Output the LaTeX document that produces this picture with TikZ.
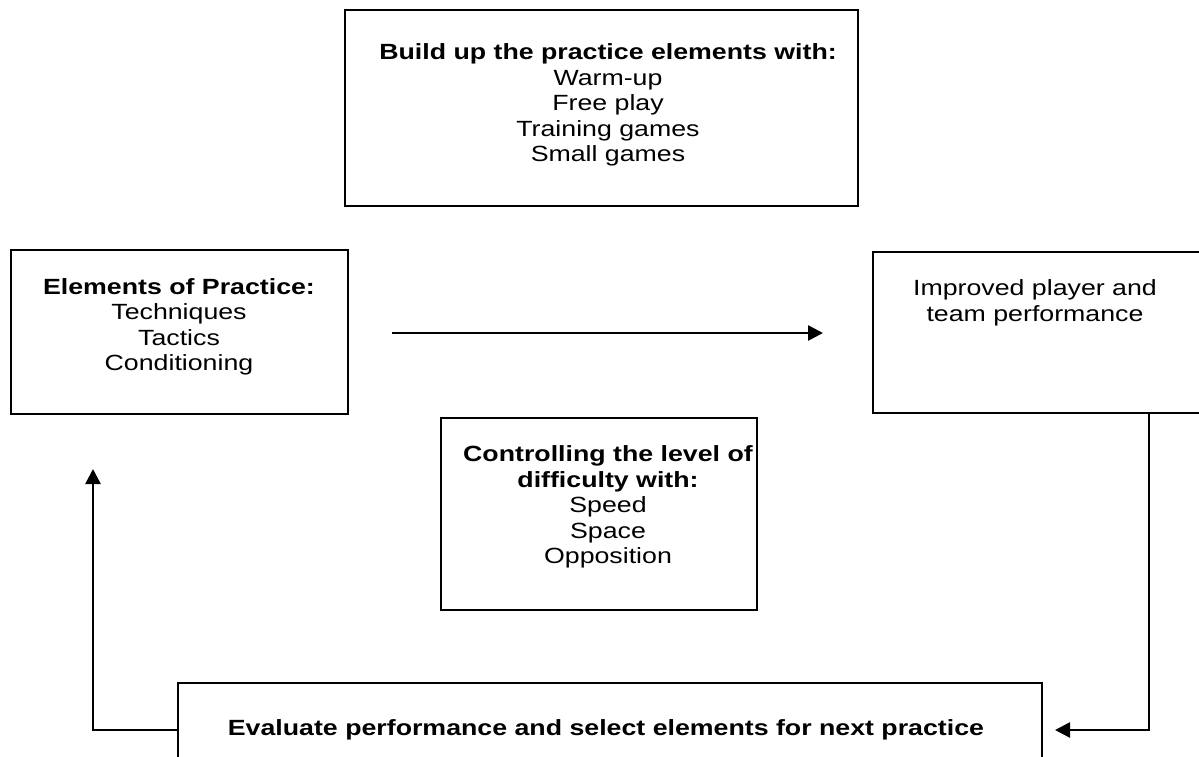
\documentclass[tikz,border=0pt]{standalone}
\usepackage{fontspec}
\setmainfont[FakeStretch=1.215]{Liberation Sans}
\usetikzlibrary{arrows.meta}
\begin{document}
\begin{tikzpicture}[x=1pt,y=-1pt,
  box/.style={draw=black,line width=1.6pt,rectangle,inner sep=0pt},
  txt/.style={align=center,inner sep=0pt,font=\fontsize{22}{25.5}\selectfont},
  conn/.style={line width=2.6pt,-{Triangle[length=15pt,width=15pt]}}]
\clip (0,0) rectangle (1199,756);
\fill[white] (0,0) rectangle (1199,756);
% boxes
\node[box,minimum width=513pt,minimum height=196pt] (top) at (601.5,108) {};
\node[box,minimum width=337pt,minimum height=164pt] (left) at (179.5,332) {};
\node[box,minimum width=340pt,minimum height=161pt] (right) at (1043,332.5) {};
\node[box,minimum width=316pt,minimum height=192pt] (mid) at (599,514) {};
\node[box,minimum width=864pt,minimum height=100pt] (bot) at (610,733) {};
% texts
\node[txt] (toptxt) at (608,105) {\textbf{Build up the practice elements with:}\\Warm-up\\Free play\\Training games\\Small games};
\node[txt] (lefttxt) at (179,327) {\textbf{Elements of Practice:}\\Techniques\\Tactics\\Conditioning};
\node[txt] (righttxt) at (1035,303) {Improved player and\\team performance};
\node[txt] (midtxt) at (608,507) {\textbf{Controlling the level of}\\\textbf{difficulty with:}\\Speed\\Space\\Opposition};
\node[txt] (bottxt) at (606,730) {\textbf{Evaluate performance and select elements for next practice}};
% connectors
\coordinate (hstart) at (392,333);
\coordinate (hend) at (823,333);
\draw[conn] (hstart) -- (hend);
\coordinate (ltip) at (93,469);
\coordinate (rtip) at (1055,730);
\draw[conn] (bot.west |- 0,730) -- (93,730) -- (ltip);
\draw[conn] (1149,0 |- right.south) -- (1149,730) -- (rtip);
\end{tikzpicture}
\end{document}
